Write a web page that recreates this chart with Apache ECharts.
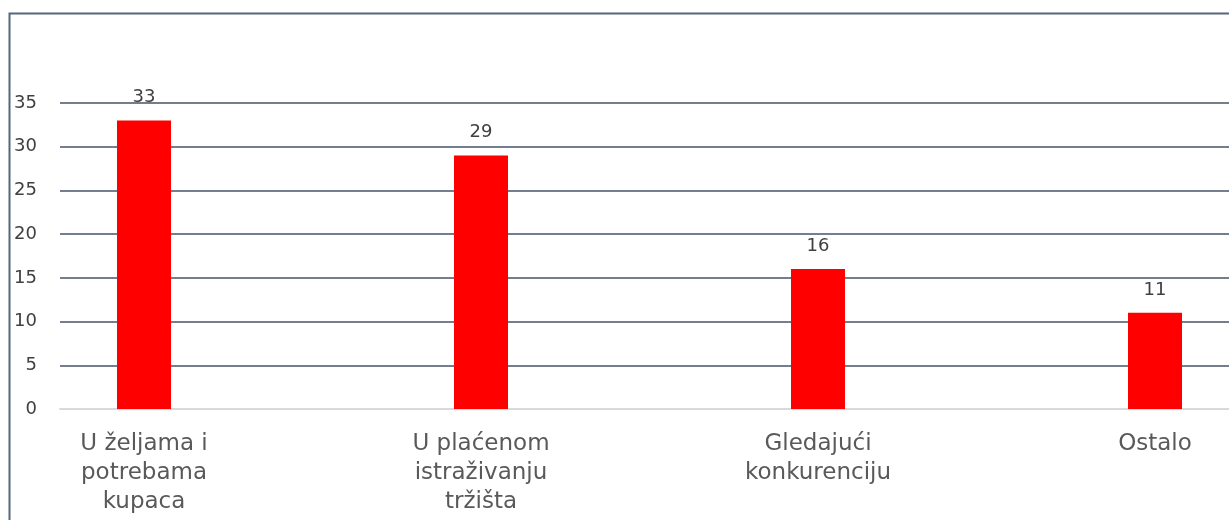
<!DOCTYPE html>
<html>
<head>
<meta charset="utf-8">
<script src="https://cdn.jsdelivr.net/npm/echarts@6/dist/echarts.min.js"></script>
<style>
  html, body { margin: 0; padding: 0; background: #fff; }
  #main { width: 1229px; height: 520px; }
</style>
</head>
<body>
<div id="main"></div>
<script>
// podaci
var categories = ["U željama i\npotrebama\nkupaca", "U plaćenom\nistraživanju\ntržišta", "Gledajući\nkonkurenciju", "Ostalo"];
var values = [33, 29, 16, 11];
var yMin = 0, yMax = 35, yStep = 5;

var myChart = echarts.init(document.getElementById("main"));

var gridColor = "#44546a";

var option = {
  animation: false,
  textStyle: { fontFamily: "DejaVu Sans" },
  graphic: [
    {
      type: "rect",
      shape: { x: 9.5, y: 13.5, width: 1240, height: 540 },
      style: { fill: "none", stroke: "#56667d", lineWidth: 2 },
      z: 100
    }
  ],
  grid: [
    // mreza i oznake osi Y
    { left: 60, right: -20, top: 103, bottom: 111 },
    // stupci (sredista prve i zadnje kategorije)
    { left: 144, right: 74, top: 103, bottom: 111 }
  ],
  xAxis: [
    {
      gridIndex: 0,
      type: "category",
      data: categories,
      axisLine: { show: true, lineStyle: { color: "#d9d9d9", width: 2 } },
      axisTick: { show: false },
      axisLabel: { show: false }
    },
    {
      gridIndex: 1,
      type: "category",
      data: categories,
      boundaryGap: false,
      axisLine: { show: false },
      axisTick: { show: false },
      splitLine: { show: false },
      axisLabel: {
        color: "#595959",
        fontSize: 23,
        lineHeight: 29,
        margin: 21
      }
    }
  ],
  yAxis: [
    {
      gridIndex: 0,
      type: "value",
      min: yMin,
      max: yMax,
      interval: yStep,
      axisLine: { show: false },
      axisTick: { show: false },
      axisLabel: { color: "#404040", fontSize: 18, margin: 23 },
      splitLine: {
        lineStyle: {
          color: ["#d9d9d9", gridColor, gridColor, gridColor, gridColor, gridColor, gridColor, gridColor],
          width: 1.5
        }
      }
    },
    {
      gridIndex: 1,
      type: "value",
      min: yMin,
      max: yMax,
      interval: yStep,
      show: false,
      splitLine: { show: false }
    }
  ],
  series: [
    {
      type: "bar",
      xAxisIndex: 1,
      yAxisIndex: 1,
      data: values,
      barWidth: 54,
      itemStyle: { color: "#ff0000" },
      label: {
        show: true,
        position: "top",
        distance: 14,
        color: "#404040",
        fontSize: 18
      },
      z: 5
    }
  ]
};

myChart.setOption(option);
</script>
</body>
</html>
